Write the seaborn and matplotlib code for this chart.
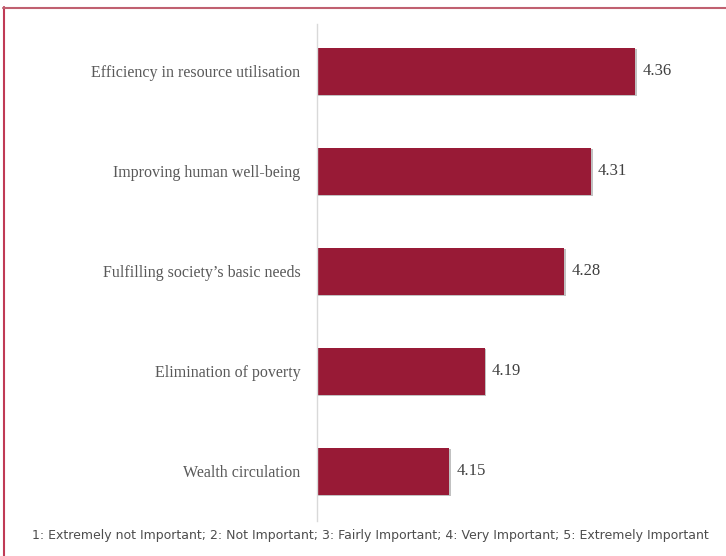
import matplotlib
matplotlib.use("Agg")
import matplotlib.pyplot as plt
import matplotlib.patheffects as pe
import seaborn as sns
import pandas as pd
from matplotlib.lines import Line2D

categories = [
    "Efficiency in resource utilisation",
    "Improving human well-being",
    "Fulfilling society\u2019s basic needs",
    "Elimination of poverty",
    "Wealth circulation",
]
values = [4.36, 4.31, 4.28, 4.19, 4.15]
footnote = ("1: Extremely not Important; 2: Not Important; 3: Fairly Important; "
            "4: Very Important; 5: Extremely Important")

df = pd.DataFrame({"category": categories, "value": values})

sns.set_theme(style="white")
plt.rcParams["font.family"] = ["Liberation Serif", "DejaVu Serif"]

fig = plt.figure(figsize=(7.26, 5.56), dpi=100)
ax = fig.add_axes([316.5 / 726, 1 - 521 / 556, (716.5 - 316.5) / 726, (521 - 21) / 556])

bar_color = "#981a36"
sns.barplot(data=df, x="value", y="category", order=categories, orient="h",
            color=bar_color, saturation=1, width=0.47, ax=ax,
            edgecolor="none")

for p in ax.patches:
    p.set_path_effects([
        pe.SimplePatchShadow(offset=(1.2, -1.2), shadow_rgbFace="#999999", alpha=0.6),
        pe.Normal(),
    ])

ax.set_xlim(4.0, 4.452)
ax.set_ylim(4.5, -0.5)
ax.set_xlabel("")
ax.set_ylabel("")
ax.set_xticks([])
for s in ["top", "right", "bottom"]:
    ax.spines[s].set_visible(False)
ax.spines["left"].set_color("#d9d9d9")
ax.spines["left"].set_linewidth(1.0)
ax.spines["left"].set_bounds(4.5, -0.47)
ax.tick_params(axis="y", length=0, pad=11.5, labelsize=11.5, labelcolor="#595959")

for i, v in enumerate(values):
    ax.text(v + 0.008, i, f"{v:.2f}", va="center", ha="left",
            fontsize=12, color="#404040")

fig.text(370 / 726, 1 - 535 / 556, footnote, ha="center", va="center",
         fontsize=9.0, color="#4d4d4d", family="DejaVu Sans")

fig.add_artist(Line2D([4 / 726, 4 / 726], [1 - 7 / 556, 0], transform=fig.transFigure,
                      color="#c03a55", linewidth=1.5))
fig.add_artist(Line2D([3.3 / 726, 1], [1 - 7.5 / 556, 1 - 7.5 / 556], transform=fig.transFigure,
                      color="#c06070", linewidth=1.5))

fig.savefig("out.png", dpi=100)
